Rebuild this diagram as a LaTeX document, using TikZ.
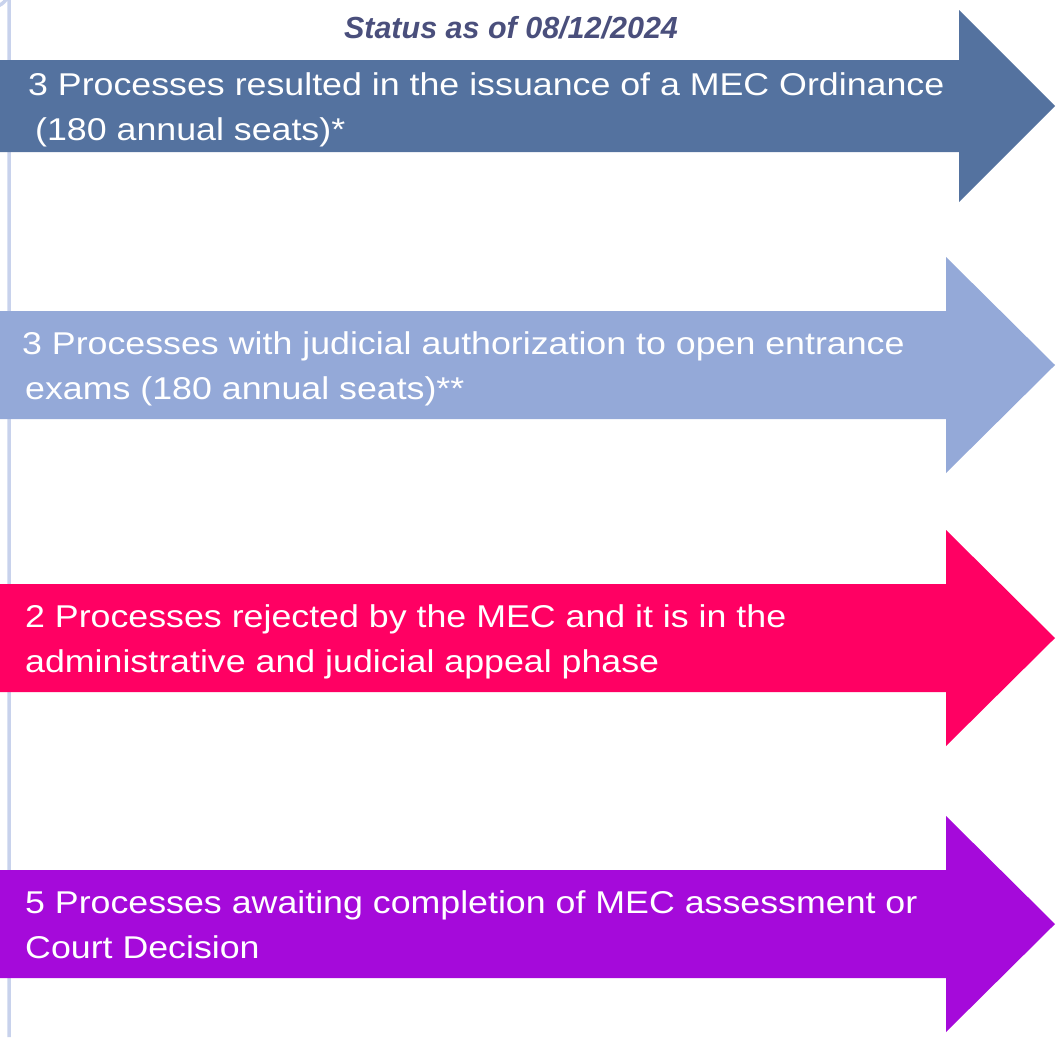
\documentclass[tikz,border=0pt]{standalone}
\usepackage{fontspec}
\setmainfont{Liberation Sans}
\newfontfamily\arrowfont{Liberation Sans}[FakeStretch=1.135]
\usetikzlibrary{positioning}
\definecolor{SteelArrow}{HTML}{54729F}
\definecolor{LightArrow}{HTML}{94A9D8}
\definecolor{PinkArrow}{HTML}{FF0063}
\definecolor{VioletArrow}{HTML}{A50ADA}
\definecolor{TitleInk}{HTML}{4A4F7C}
\definecolor{RailLine}{HTML}{C8D2EC}
% #1 colour, #2 centre y, #3 shaft half height, #4 head half height, #5 head base x
\newcommand{\statusarrow}[5]{%
  \fill[#1] (0,#2-#3) -- (#5,#2-#3) -- (#5,#2-#4) -- (1055,#2)
    -- (#5,#2+#4) -- (#5,#2+#3) -- (0,#2+#3) -- cycle;
}
\tikzset{
  arrowtext/.style={anchor=base west,align=left,text=white,inner sep=0pt,
    font=\arrowfont\fontsize{31.5}{45}\selectfont}
}
\begin{document}
\begin{tikzpicture}[x=1pt,y=-1pt]
      \useasboundingbox (0,0) rectangle (1064,1037);
      % rail on the left
      \draw[RailLine,line width=3.5pt] (-20,7) -- (-8,7) arc[start angle=90,end angle=0,radius=17] -- (9,1037);

      \node[font=\fontsize{30.5}{32}\selectfont\bfseries\itshape,text=TitleInk] (title) at (511,28) {Status as of 08/12/2024};

      \statusarrow{SteelArrow}{106}{46}{96}{959}
      \statusarrow{LightArrow}{365}{54}{108}{946}
      \statusarrow{PinkArrow}{638}{54}{108}{946}
      \statusarrow{VioletArrow}{924}{54}{108}{946}

      % base anchor sits on the last line
      \node[arrowtext] (ordinance) at (28,140) {3 Processes resulted in the issuance of a MEC Ordinance\\\hspace*{7pt}(180 annual seats)*};
      \node[arrowtext] (judicial) at (22,399) {3 Processes with judicial authorization to open entrance\\\hspace*{3pt}exams (180 annual seats)**};
      \node[arrowtext] (rejected) at (25,672) {2 Processes rejected by the MEC and it is in the\\administrative and judicial appeal phase};
      \node[arrowtext] (awaiting) at (25,958) {5 Processes awaiting completion of MEC assessment or\\Court Decision};
    \end{tikzpicture}
\end{document}
